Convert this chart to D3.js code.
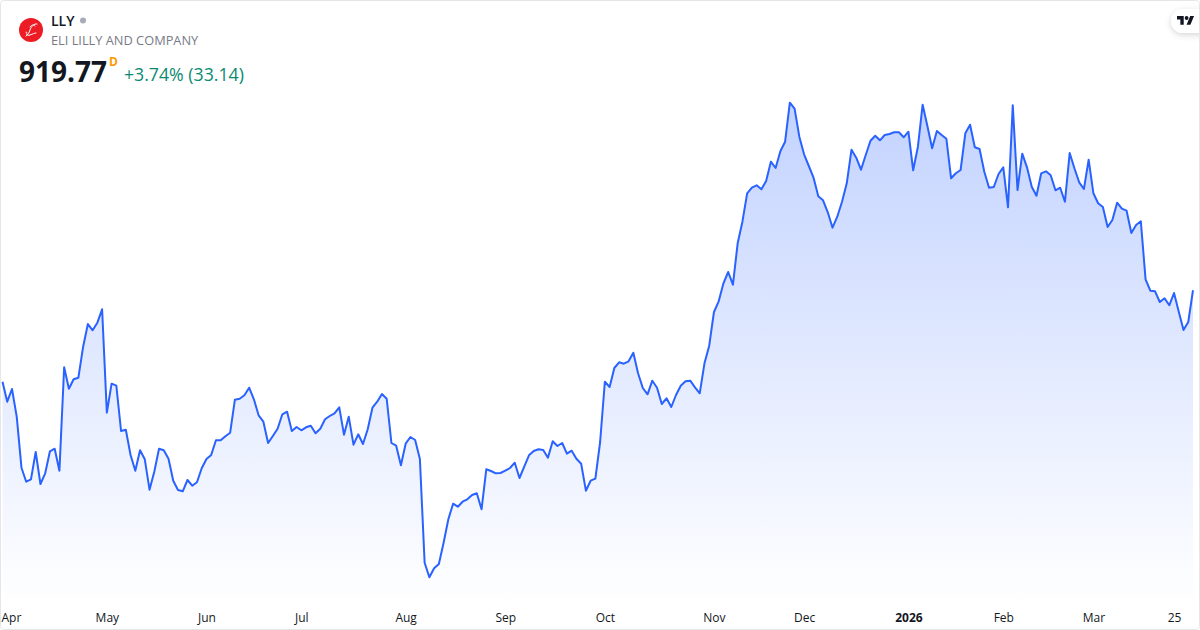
<!DOCTYPE html>
<html>
<head>
<meta charset="utf-8">
<script src="https://cdn.jsdelivr.net/npm/d3@7"></script>
<style>
  html, body { margin: 0; padding: 0; background: #fff; }
  text { font-family: "Open Sans", "Noto Sans", sans-serif; }
</style>
</head>
<body>
<div id="plot"></div>
<script>
// daily closes (Mar 31 2025 -> late Mar 2026)
const closes = [
  828.3,808.3,821,793.3,742.3,728.3,730.7,758,726,736.7,758.7,761.3,739.3,842.7,821.3,830.7,832.3,863.3,886,879.7,887.3,900.7,
  797.3,826.3,824.3,779,780.3,755,739.3,759.7,750.7,720.3,738.3,761.3,759.7,751.3,729.3,720,718.7,730,724.3,727.7,741.7,
  751,755,769.7,769.7,773.7,777.3,810.3,811.3,814.7,822.3,810.7,794.7,788.3,767,774,781.3,795.7,798.3,779,783,
  779.7,782.7,784.3,776.7,781.3,790.7,794,796.7,802.7,775.3,793.3,765.3,775.7,766,780.7,802.3,808.3,816,811.3,767,764.3,744.7,
  766.3,773,770,751,647.3,632.7,641.7,646,667.3,690.7,706.3,703.3,708.3,710.7,715,716.7,700.7,740.7,739,736.7,737,
  739.3,742,747.3,732,743.3,754.7,759,760.7,760,752.3,768.7,764,767,756.3,759.3,751.3,746.3,719.3,729.3,731.3,768,
  828.3,823,842,847.7,846.3,848.7,857.3,836.7,822,815.7,829.3,822.3,806,811.7,803,815,824.3,828.7,829.3,822.7,816.7,846.7,864.3,
  898,908.7,926.7,938,925.3,966.7,988.3,1016.7,1022.3,1024.7,1020.7,1029,1048.3,1042,1058.7,1068.3,1107.3,1101.3,1073.3,
  1055.7,1044,1032.3,1013.7,1009.7,997.7,982.3,993.3,1008.3,1026.7,1060.3,1052.3,1040.3,1055,1069.3,1074.3,1069.7,1075,1076,1077.7,1077.7,1072.7,
  1078.3,1039.7,1063.3,1105.3,1084,1061.7,1079,1075,1071.3,1031.7,1036.7,1040,1076.7,1085.3,1062.7,1061,1038.3,1022.3,1023,1036,
  1042.7,1002.7,1104.7,1020,1056.3,1042.7,1023.3,1014.3,1036.7,1038.7,1034.7,1019.7,1022.3,1008.3,1057,1041.7,1027.7,1021,1050.3,
  1016.7,1006.7,1003,983,990,1007.3,1001.3,999.3,977,985,988.7,930.7,919.3,918.7,908,911.7,904.7,917,898.3,880,888,919.77
];

// bar index of each label on the time axis
const tickIndex = [1,22,43,63,85,106,127,150,169,191,211,230,247];
const tickLabels = ['Apr','May','Jun','Jul','Aug','Sep','Oct','Nov','Dec','2026','Feb','Mar','25'];

const width = 1200;
const height = 630;

const svg = d3.select('#plot')
    .append('svg')
    .attr('width', width)
    .attr('height', height)
    .style('display', 'block');

const x = d3.scaleLinear()
    .domain([0, closes.length - 1])
    .range([2.5, 1193]);

const y = d3.scaleLinear()
    .domain([600, 1200])
    .range([610, 10]);

const grad = svg.append('defs').append('linearGradient')
    .attr('id', 'fill')
    .attr('x1', 0).attr('x2', 0).attr('y1', 0).attr('y2', 1);
grad.append('stop').attr('offset', 0).attr('stop-color', '#2962ff').attr('stop-opacity', 0.28);
grad.append('stop').attr('offset', 1).attr('stop-color', '#2962ff').attr('stop-opacity', 0);

const area = d3.area()
    .x((d,i) => x(i))
    .y0(y(605))
    .y1(d => y(d));

const line = d3.line()
    .x((d,i) => x(i))
    .y(d => y(d));

svg.append('path')
    .datum(closes)
    .attr('fill', 'url(#fill)')
    .attr('d', area);

svg.append('path')
    .datum(closes)
    .attr('fill', 'none')
    .attr('stroke', '#2962ff')
    .attr('stroke-width', 2)
    .attr('stroke-linejoin', 'round')
    .attr('d', line);

// time axis
const xAxis = svg.append('g')
    .attr('transform', 'translate(0,608)')
    .call(d3.axisBottom(x)
        .tickValues(tickIndex)
        .tickSize(0)
        .tickPadding(5)
        .tickFormat((d,i) => tickLabels[i]));

xAxis.select('.domain').remove();
xAxis.selectAll('text')
    .attr('font-size', '12px')
    .style('font-family', '"Open Sans", sans-serif')
    .attr('fill', '#131722')
    .attr('font-weight', (d,i) => tickLabels[i] === '2026' ? 700 : 400);
// first label gets pushed inside the frame
xAxis.selectAll('text').filter((d,i) => i === 0)
    .attr('text-anchor', 'start')
    .attr('x', 1 - x(tickIndex[0]));

// header
const logo = svg.append('g').attr('transform', 'translate(31,30)');
logo.append('circle').attr('r', 12).attr('fill', '#ed1c24');
logo.append('path')
    .attr('d', 'M6,-6C3,-7 0,-3 -1,0C-2,3 -3,5 -5,6M-5,2C-3,1 -6,7 -1,5C2,4 3,3 5,3M-1,-3C1,-6 3,-5 4,-4')
    .attr('fill', 'none')
    .attr('stroke', '#fff')
    .attr('stroke-width', 1)
    .attr('stroke-linecap', 'round');

svg.append('text').attr('x', 51).attr('y', 26)
    .attr('font-size', '14px').attr('font-weight', 600).attr('fill', '#131722')
    .text('LLY');
svg.append('circle').attr('cx', 83).attr('cy', 20.5).attr('r', 3).attr('fill', '#a8abb5');
svg.append('text').attr('x', 51).attr('y', 45)
    .attr('font-size', '12.8px').attr('fill', '#787b86')
    .text('ELI LILLY AND COMPANY');
svg.append('text').attr('x', 19).attr('y', 82)
    .attr('font-size', '28px').attr('font-weight', 700).attr('fill', '#131722')
    .text('919.77');
svg.append('text').attr('x', 109).attr('y', 66)
    .attr('font-size', '12px').attr('font-weight', 700).attr('fill', '#ff9800')
    .text('D');
svg.append('text').attr('x', 124).attr('y', 81)
    .attr('font-size', '17.7px').attr('fill', '#0a8a70')
    .text('+3.74% (33.14)');

// TV badge, top right
const shadow = svg.select('defs').append('filter').attr('id', 'soft')
    .attr('x', '-50%').attr('y', '-50%').attr('width', '200%').attr('height', '200%');
shadow.append('feDropShadow')
    .attr('dx', 0).attr('dy', 2).attr('stdDeviation', 3)
    .attr('flood-color', '#000').attr('flood-opacity', 0.16);

svg.append('rect')
    .attr('x', 1171).attr('y', 9).attr('width', 50).attr('height', 24).attr('rx', 12)
    .attr('fill', '#fff').attr('filter', 'url(#soft)');

const tv = svg.append('g').attr('transform', 'translate(1177,14.2) scale(0.48)').attr('fill', '#131722');
tv.append('path').attr('d', 'M14 22H7V11H0V4h14v18zM28 22h-8l7.5-18h8L28 22z');
tv.append('circle').attr('cx', 20).attr('cy', 8).attr('r', 4);

// frame
svg.append('rect')
    .attr('x', 0.5).attr('y', 0.5).attr('width', width - 1).attr('height', height - 1).attr('rx', 3)
    .attr('fill', 'none')
    .attr('stroke', '#e6e6e6');
</script>
</body>
</html>
